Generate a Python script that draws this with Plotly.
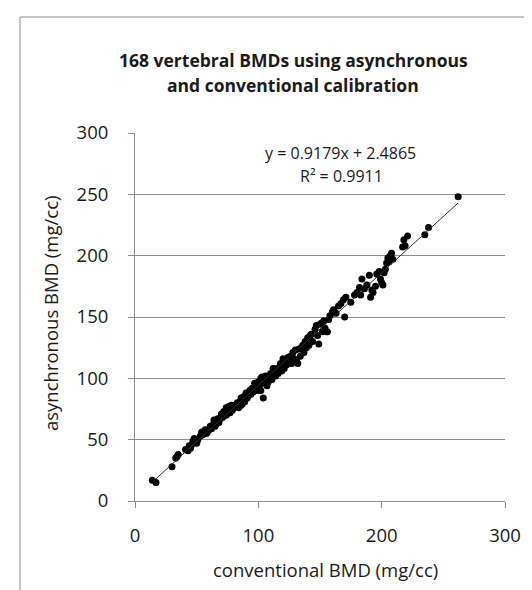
import plotly.graph_objects as go

# conventional BMD (mg/cc)
conventional = [14, 17, 30, 33, 35, 34, 41, 43, 44, 45, 46, 47, 48, 49, 50, 51, 53, 54, 55, 56,
                57, 58, 60, 61, 62, 63, 64, 65, 66, 67, 68, 69, 70, 71, 72, 73, 74, 75, 76, 77,
                77, 78, 79, 80, 81, 82, 83, 84, 85, 86, 87, 88, 89, 90, 91, 92, 93, 94, 95, 96,
                97, 98, 99, 100, 101, 102, 103, 104, 104, 105, 106, 107, 108, 110, 111, 112, 113, 114, 115, 116,
                117, 118, 119, 120, 121, 122, 123, 124, 125, 126, 127, 128, 129, 130, 131, 132, 133, 134, 135, 136,
                137, 138, 139, 140, 141, 142, 143, 144, 146, 147, 148, 149, 150, 151, 152, 153, 154, 155, 156, 157,
                158, 160, 161, 163, 165, 167, 169, 170, 171, 175, 178, 180, 182, 183, 184, 186, 188, 190, 191, 192,
                193, 195, 196, 198, 199, 200, 201, 202, 203, 204, 205, 206, 207, 208, 209, 217, 218, 219, 221, 235,
                238, 262, 59, 74, 86, 97, 102, 109]
# asynchronous BMD (mg/cc)
asynchronous = [17, 15, 28, 35, 38, 36, 42, 41, 45, 43, 46, 49, 51, 49, 47, 50, 53, 56, 54, 57,
                58, 55, 58, 61, 59, 62, 66, 61, 63, 67, 64, 67, 71, 68, 73, 71, 76, 73, 77, 72,
                75, 78, 74, 76, 78, 77, 80, 76, 81, 84, 79, 85, 81, 88, 84, 86, 90, 87, 92, 89,
                93, 96, 90, 97, 94, 100, 101, 96, 84, 101, 102, 94, 97, 104, 99, 108, 107, 102, 108, 104,
                109, 112, 106, 116, 108, 115, 111, 117, 113, 118, 112, 121, 116, 123, 115, 112, 124, 118, 125, 127,
                121, 130, 125, 133, 127, 135, 136, 130, 140, 143, 135, 128, 144, 145, 138, 147, 141, 138, 138, 148,
                151, 154, 156, 153, 159, 161, 164, 150, 166, 162, 168, 170, 174, 168, 181, 173, 176, 184, 166, 172,
                170, 175, 185, 187, 181, 178, 176, 186, 189, 194, 198, 195, 200, 202, 197, 207, 213, 208, 216, 217,
                223, 248, 57, 70, 78, 96, 90, 101]

# trendline coefficients as printed on the chart
slope = 0.9179
intercept = 2.4865
r_squared = 0.9911

x_ticks = [0, 100, 200, 300]
y_ticks = [0, 50, 100, 150, 200, 250, 300]

W, H = 532, 590
L, R, T, B = 127, 35, 125, 97
pw, ph = W - L - R, H - T - B


def px(xp):
    return (xp - L) / pw


def py(yp):
    return (H - B - yp) / ph


FONT = "Open Sans"
TXT = "#1a1a1a"
GRID = "#8c8c8c"

x_line = [min(conventional), max(conventional)]
y_line = [slope * v + intercept for v in x_line]

fig = go.Figure()
fig.add_trace(go.Scatter(x=conventional, y=asynchronous, mode="markers",
                         marker=dict(color="black", size=7, symbol="circle"),
                         showlegend=False, hoverinfo="x+y"))
fig.add_trace(go.Scatter(x=x_line, y=y_line, mode="lines",
                         line=dict(color="#2b2b2b", width=1),
                         showlegend=False, hoverinfo="skip"))

title_lines = ["168 vertebral BMDs using asynchronous", "and conventional calibration"]
title_y = [52, 77]

annotations = [
    dict(text="conventional BMD (mg/cc)", xref="paper", yref="paper",
         x=px(317), y=py(561), xanchor="center", yanchor="middle", showarrow=False,
         font=dict(family=FONT, size=18.5, color=TXT)),
    dict(text="asynchronous BMD (mg/cc)", xref="paper", yref="paper",
         x=px(42), y=py(306), xanchor="center", yanchor="middle", showarrow=False,
         textangle=-90, font=dict(family=FONT, size=18.5, color=TXT)),
    dict(text=f"y = {slope}x + {intercept}", xref="paper", yref="paper",
         x=px(332), y=py(145), xanchor="center", yanchor="middle", showarrow=False,
         font=dict(family=FONT, size=16, color=TXT)),
    dict(text=f"R² = {r_squared}", xref="paper", yref="paper",
         x=px(333), y=py(168), xanchor="center", yanchor="middle", showarrow=False,
         font=dict(family=FONT, size=16, color=TXT)),
]
for line, yy in zip(title_lines, title_y):
    annotations.append(dict(text=f"<b>{line}</b>", xref="paper", yref="paper",
                            x=px(285), y=py(yy), xanchor="center", yanchor="middle",
                            showarrow=False, font=dict(family=FONT, size=17.5, color=TXT)))

fig.update_layout(
    width=W, height=H,
    margin=dict(l=L, r=R, t=T, b=B),
    paper_bgcolor="white", plot_bgcolor="white",
    font=dict(family=FONT, size=18, color=TXT),
    xaxis=dict(range=[0, 300], tickvals=x_ticks, showgrid=False, zeroline=False,
               showline=True, linecolor=GRID, linewidth=1,
               ticks="outside", ticklen=6, tickcolor=GRID,
               ticklabelstandoff=12,
               tickfont=dict(family=FONT, size=18.5, color=TXT)),
    yaxis=dict(range=[0, 300], tickvals=y_ticks, showgrid=True, gridcolor=GRID, gridwidth=1,
               zeroline=False, showline=True, linecolor=GRID, linewidth=1,
               ticks="outside", ticklen=6, tickcolor=GRID,
               ticklabelstandoff=16,
               tickfont=dict(family=FONT, size=18.5, color=TXT)),
    shapes=[dict(type="rect", xref="paper", yref="paper",
                 x0=px(12), x1=px(W + 20), y0=py(H + 20), y1=py(9),
                 line=dict(color="#8c8c8c", width=1), fillcolor="rgba(0,0,0,0)", layer="below")],
    annotations=annotations,
)

fig.write_html("out.html")
